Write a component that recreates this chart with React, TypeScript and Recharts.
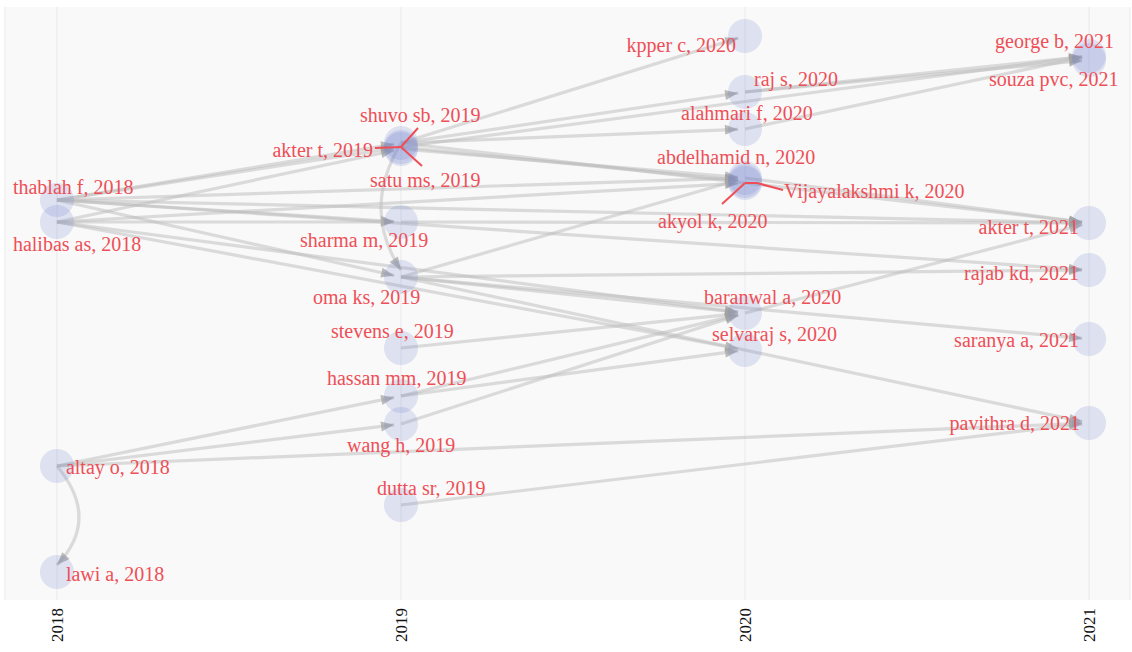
import React from 'react';
import { ScatterChart, Scatter, XAxis, YAxis, CartesianGrid } from 'recharts';

// publication years on the x axis
const yearTicks = [2018, 2019, 2020, 2021];

// papers in the historiograph: label, year, vertical row (top = small)
const paperLabels = [
  'thablah f, 2018', 'halibas as, 2018', 'altay o, 2018', 'lawi a, 2018',
  'shuvo sb, 2019', 'akter t, 2019', 'satu ms, 2019', 'sharma m, 2019', 'oma ks, 2019',
  'stevens e, 2019', 'hassan mm, 2019', 'wang h, 2019', 'dutta sr, 2019',
  'kpper c, 2020', 'raj s, 2020', 'alahmari f, 2020', 'abdelhamid n, 2020',
  'Vijayalakshmi k, 2020', 'akyol k, 2020', 'baranwal a, 2020', 'selvaraj s, 2020',
  'george b, 2021', 'souza pvc, 2021', 'akter t, 2021', 'rajab kd, 2021',
  'saranya a, 2021', 'pavithra d, 2021',
];
const paperYears = [
  2018, 2018, 2018, 2018,
  2019, 2019, 2019, 2019, 2019, 2019, 2019, 2019, 2019,
  2020, 2020, 2020, 2020, 2020, 2020, 2020, 2020,
  2021, 2021, 2021, 2021, 2021, 2021,
];
const paperRows = [
  200, 222, 466, 572,
  143, 147, 149, 222, 277, 348, 396, 424, 505,
  36, 92, 129, 178, 181, 183, 313, 350,
  56, 60, 223, 270, 339, 423,
];

// citation links: cited (older) -> citing (newer)
const citedBy = [
  ['thablah f, 2018', 'shuvo sb, 2019'],
  ['thablah f, 2018', 'akter t, 2019'],
  ['thablah f, 2018', 'sharma m, 2019'],
  ['thablah f, 2018', 'oma ks, 2019'],
  ['thablah f, 2018', 'abdelhamid n, 2020'],
  ['thablah f, 2018', 'akter t, 2021'],
  ['thablah f, 2018', 'rajab kd, 2021'],
  ['halibas as, 2018', 'sharma m, 2019'],
  ['halibas as, 2018', 'satu ms, 2019'],
  ['halibas as, 2018', 'akyol k, 2020'],
  ['halibas as, 2018', 'baranwal a, 2020'],
  ['halibas as, 2018', 'selvaraj s, 2020'],
  ['shuvo sb, 2019', 'kpper c, 2020'],
  ['shuvo sb, 2019', 'raj s, 2020'],
  ['shuvo sb, 2019', 'alahmari f, 2020'],
  ['akter t, 2019', 'george b, 2021'],
  ['satu ms, 2019', 'abdelhamid n, 2020'],
  ['akter t, 2019', 'Vijayalakshmi k, 2020'],
  ['shuvo sb, 2019', 'akter t, 2021'],
  ['shuvo sb, 2019', 'oma ks, 2019'],
  ['sharma m, 2019', 'akter t, 2021'],
  ['oma ks, 2019', 'abdelhamid n, 2020'],
  ['oma ks, 2019', 'baranwal a, 2020'],
  ['oma ks, 2019', 'rajab kd, 2021'],
  ['oma ks, 2019', 'saranya a, 2021'],
  ['oma ks, 2019', 'pavithra d, 2021'],
  ['stevens e, 2019', 'baranwal a, 2020'],
  ['hassan mm, 2019', 'baranwal a, 2020'],
  ['hassan mm, 2019', 'selvaraj s, 2020'],
  ['wang h, 2019', 'baranwal a, 2020'],
  ['dutta sr, 2019', 'pavithra d, 2021'],
  ['altay o, 2018', 'hassan mm, 2019'],
  ['altay o, 2018', 'wang h, 2019'],
  ['altay o, 2018', 'pavithra d, 2021'],
  ['altay o, 2018', 'lawi a, 2018'],
  ['baranwal a, 2020', 'akter t, 2021'],
  ['abdelhamid n, 2020', 'akter t, 2021'],
  ['raj s, 2020', 'george b, 2021'],
  ['raj s, 2020', 'souza pvc, 2021'],
  ['alahmari f, 2020', 'george b, 2021'],
];

const papers = paperLabels.map((label, i) => ({ label, year: paperYears[i], row: paperRows[i] }));
const byLabel: Record<string, any> = {};
papers.forEach((p) => { byLabel[p.label] = p; });

// label placement relative to node centre (layout only)
const labelPlace: Record<string, any> = {
  'thablah f, 2018': { dx: -44, dy: -12, anchor: 'start' },
  'halibas as, 2018': { dx: -44, dy: 23, anchor: 'start' },
  'altay o, 2018': { dx: 9, dy: 2, anchor: 'start' },
  'lawi a, 2018': { dx: 9, dy: 3, anchor: 'start' },
  'shuvo sb, 2019': { dx: -41, dy: -27, anchor: 'start', leader: [[0, 4], [17, -15]] },
  'akter t, 2019': { dx: -28, dy: 4, anchor: 'end', leader: [[0, 0], [-26, 1]] },
  'satu ms, 2019': { dx: -31, dy: 32, anchor: 'start', leader: [[0, -2], [21, 17]] },
  'sharma m, 2019': { dx: -101, dy: 19, anchor: 'start' },
  'oma ks, 2019': { dx: -88, dy: 21, anchor: 'start' },
  'stevens e, 2019': { dx: -70, dy: -16, anchor: 'start' },
  'hassan mm, 2019': { dx: -74, dy: -17, anchor: 'start' },
  'wang h, 2019': { dx: -54, dy: 22, anchor: 'start' },
  'dutta sr, 2019': { dx: -24, dy: -16, anchor: 'start' },
  'kpper c, 2020': { dx: -9, dy: 10, anchor: 'end' },
  'raj s, 2020': { dx: 9, dy: -12, anchor: 'start' },
  'alahmari f, 2020': { dx: -64, dy: -15, anchor: 'start' },
  'abdelhamid n, 2020': { dx: -88, dy: -20, anchor: 'start' },
  'Vijayalakshmi k, 2020': { dx: 39, dy: 11, anchor: 'start', leader: [[0, 2], [12, 2], [38, 9]] },
  'akyol k, 2020': { dx: -87, dy: 39, anchor: 'start', leader: [[0, 0], [-23, 21]] },
  'baranwal a, 2020': { dx: -41, dy: -15, anchor: 'start' },
  'selvaraj s, 2020': { dx: -33, dy: -15, anchor: 'start' },
  'george b, 2021': { dx: -94, dy: -14, anchor: 'start' },
  'souza pvc, 2021': { dx: -100, dy: 20, anchor: 'start' },
  'akter t, 2021': { dx: -10, dy: 5, anchor: 'end' },
  'rajab kd, 2021': { dx: -10, dy: 4, anchor: 'end' },
  'saranya a, 2021': { dx: -10, dy: 2, anchor: 'end' },
  'pavithra d, 2021': { dx: -9, dy: 1, anchor: 'end' },
};

const RED = '#ee4f57';
const FONT = '"Liberation Serif", "Times New Roman", serif';

// draws a link with an arrow head at the citing paper
const edgeLine = (props: any) => {
  const pts = props.points || [];
  if (pts.length < 2) return <g />;
  const a = pts[0];
  const b = pts[1];
  const dx = b.x - a.x;
  const dy = b.y - a.y;
  const len = Math.sqrt(dx * dx + dy * dy) || 1;
  const ux = dx / len;
  const uy = dy / len;
  const tipX = b.x - ux * 7;
  const tipY = b.y - uy * 7;
  let d = `M${a.x},${a.y} L${tipX},${tipY}`;
  let dirX = ux;
  let dirY = uy;
  if (Math.abs(dx) < 5) {
    // same-year link: bend it sideways
    const bend = dy > 0 && b.y > 400 ? 22 : -20;
    const cx = (a.x + b.x) / 2 + bend * 2;
    const cy = (a.y + b.y) / 2;
    d = `M${a.x},${a.y} Q${cx},${cy} ${tipX},${tipY}`;
    const tx = tipX - cx;
    const ty = tipY - cy;
    const tl = Math.sqrt(tx * tx + ty * ty) || 1;
    dirX = tx / tl;
    dirY = ty / tl;
  }
  const hl = 13;
  const hw = 5;
  const bx = tipX - dirX * hl;
  const by = tipY - dirY * hl;
  const head = `${tipX},${tipY} ${bx - dirY * hw},${by + dirX * hw} ${bx + dirY * hw},${by - dirX * hw}`;
  return (
    <g>
      <path d={d} fill="none" stroke="#bcbcbc" strokeOpacity={0.5} strokeWidth={3.2} />
      <polygon points={head} fill="#a0a0a0" fillOpacity={0.7} />
    </g>
  );
};

const nodeShape = (p: any) => (
  <circle cx={p.cx} cy={p.cy} r={17} fill="#7282cc" fillOpacity={0.2} />
);

const labelShape = (p: any) => {
  const label = (p.payload && p.payload.label) || p.label;
  const lp = labelPlace[label];
  if (!lp) return <g />;
  return (
    <g>
      {lp.leader && (
        <polyline
          points={lp.leader.map((q: number[]) => `${p.cx + q[0]},${p.cy + q[1]}`).join(' ')}
          fill="none"
          stroke={RED}
          strokeWidth={2}
        />
      )}
      <text
        x={p.cx + lp.dx}
        y={p.cy + lp.dy + 6}
        textAnchor={lp.anchor}
        fill={RED}
        fontSize={20}
        fontFamily={FONT}
      >
        {label}
      </text>
    </g>
  );
};

const yearTick = (props: any) => {
  const { x, y, payload } = props;
  return (
    <text
      transform={`translate(${x + 6},${y}) rotate(-90)`}
      textAnchor="end"
      fill="#111"
      fontSize={17}
      fontFamily={FONT}
    >
      {payload.value}
    </text>
  );
};

export default function App() {
  return (
    <div style={{ position: 'absolute', left: 0, top: 0, width: 1132, height: 652, background: '#fff' }}>
      <ScatterChart width={1132} height={652} margin={{ top: 7, right: 2, bottom: 0, left: 5 }}>
        <CartesianGrid horizontal={false} fill="#f9f9f9" stroke="#ececef" strokeWidth={1.2} />
        <XAxis
          type="number"
          dataKey="year"
          domain={[2017.849, 2021.119]}
          ticks={yearTicks}
          allowDataOverflow
          axisLine={false}
          tickLine={false}
          height={52}
          tick={yearTick}
          interval={0}
        />
        <YAxis type="number" dataKey="row" domain={[7, 600]} reversed hide allowDataOverflow />
        {citedBy.map((e, i) => (
          <Scatter
            key={`edge-${i}`}
            data={[byLabel[e[0]], byLabel[e[1]]]}
            shape={() => <g />}
            line={edgeLine}
            isAnimationActive={false}
          />
        ))}
        <Scatter data={papers} shape={nodeShape} isAnimationActive={false} />
        <Scatter data={papers} shape={labelShape} isAnimationActive={false} />
      </ScatterChart>
    </div>
  );
}
